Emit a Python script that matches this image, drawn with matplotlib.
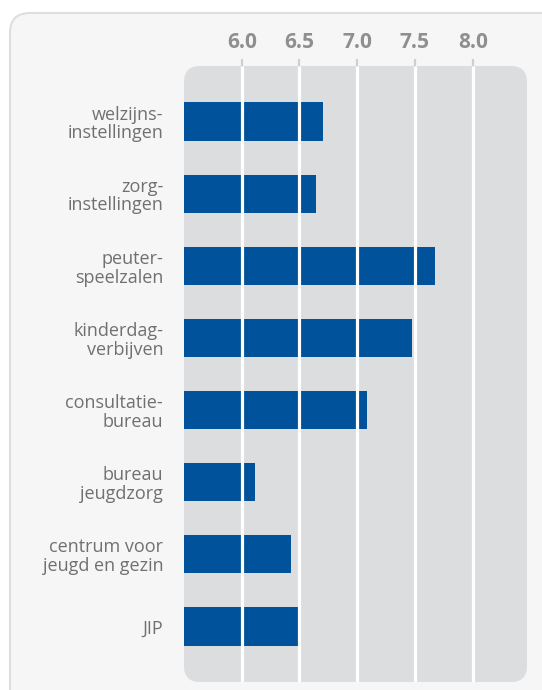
import matplotlib.pyplot as plt
from matplotlib.patches import FancyBboxPatch

labels = ['welzijns-\ninstellingen', 'zorg-\ninstellingen', 'peuter-\nspeelzalen',
          'kinderdag-\nverbijven', 'consultatie-\nbureau', 'bureau\njeugdzorg',
          'centrum voor\njeugd en gezin', 'JIP']
values = [6.70, 6.645, 7.67, 7.47, 7.085, 6.115, 6.43, 6.49]
ticks = [6.0, 6.5, 7.0, 7.5, 8.0]
tick_labels = ['6.0', '6.5', '7.0', '7.5', '8.0']

W, H = 542, 690
fig = plt.figure(figsize=(W / 100, H / 100), dpi=100)
fig.patch.set_facecolor('white')

# outer panel
outer = FancyBboxPatch((10 / W, -0.05), 1.05, 1 - 13 / H + 0.05,
                       boxstyle='round,pad=0,rounding_size=%f' % (20 / W),
                       mutation_aspect=W / H, transform=fig.transFigure,
                       facecolor='#f6f6f6', edgecolor='#dedede', linewidth=1.5, zorder=-3)
fig.patches.append(outer)

left, right, top, bottom = 184, 527, 66, 682
ax = fig.add_axes([left / W, 1 - bottom / H, (right - left) / W, (bottom - top) / H])
ax.patch.set_visible(False)

# rounded grey plot area
bg = FancyBboxPatch((left / W, 1 - bottom / H), (right - left) / W, (bottom - top) / H,
                    boxstyle='round,pad=0,rounding_size=%f' % (16 / W),
                    mutation_aspect=W / H, transform=fig.transFigure,
                    facecolor='#dcdddf', edgecolor='none', zorder=-2)
fig.patches.append(bg)

y = list(range(len(labels)))
ax.barh(y, [v - 5.5 for v in values], left=5.5, height=0.53, color='#00539b', zorder=2)
ax.vlines(ticks, -0.77, len(labels) - 1 + 0.77, color='white', linewidth=2.3, zorder=3)

ax.set_xlim(5.5, 8.47)
ax.set_ylim(len(labels) - 1 + 0.77, -0.77)

ax.xaxis.tick_top()
ax.set_xticks(ticks)
ax.set_xticklabels(tick_labels, fontsize=15, fontweight='bold', color='#8f8f8f',
                   family=['Open Sans', 'DejaVu Sans'])
ax.tick_params(axis='x', length=5, width=1.6, color='#cfcfcf', pad=4)
ax.set_yticks(y)
ax.set_yticklabels(labels, fontsize=13, color='#707070', linespacing=1.05,
                   family=['Open Sans', 'DejaVu Sans'])
ax.tick_params(axis='y', length=0, pad=15)
for s in ax.spines.values():
    s.set_visible(False)

fig.savefig('out.png', dpi=100)
